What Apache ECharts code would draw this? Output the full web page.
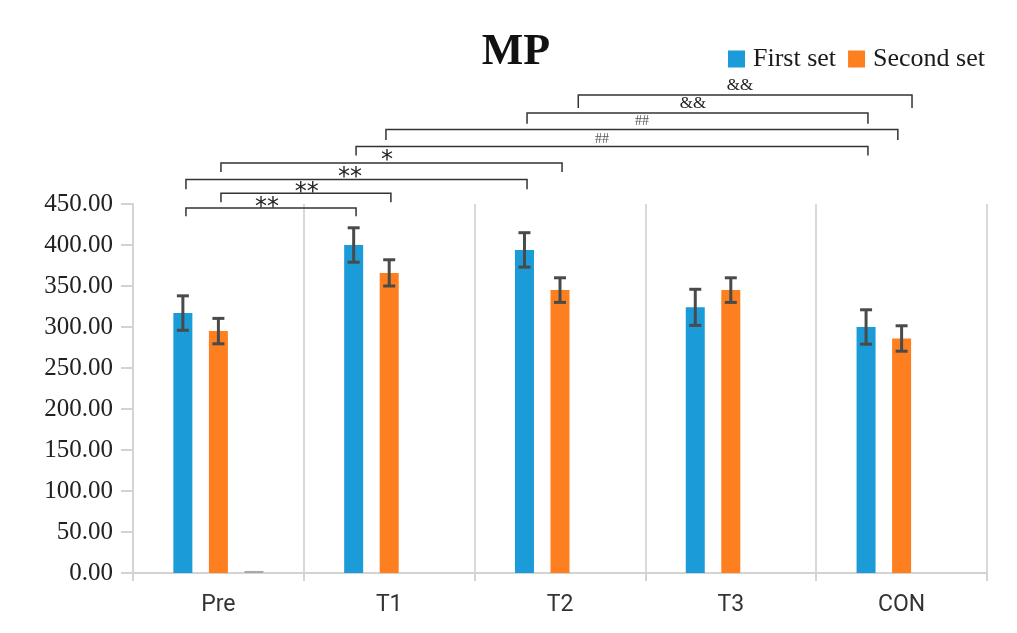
<!DOCTYPE html>
<html>
<head>
<meta charset="utf-8">
<script src="https://cdn.jsdelivr.net/npm/echarts@6/dist/echarts.min.js"></script>
<style>html,body{margin:0;padding:0;background:#fff;}#chart{width:1017px;height:633px;}</style>
</head>
<body>
<div id="chart"></div>
<script>
// ---- data ----
const categories = ['Pre', 'T1', 'T2', 'T3', 'CON'];
const firstSet = [317, 400, 394, 324, 300];
const firstSetErr = [21, 21, 21, 22, 21];
const secondSet = [295, 366, 345, 345, 286];
const secondSetErr = [15.5, 16, 15, 15, 15.5];
const thirdSet = [2.5, null, null, null, null];
const yMin = 0, yMax = 450, yStep = 50;

// significance brackets (x in category units from first category centre, y in data units)
const bracketFrom  = [2.107, 1.807, 0.981, 0.806, 0.015, -0.190, 0.015, -0.190];
const bracketTo    = [4.061, 3.803, 3.978, 3.803, 2.012, 1.807, 1.010, 0.806];
const bracketLevel = [583, 561, 541, 520, 500, 480, 463, 445];
const bracketDrop  = [16, 13, 13, 11, 11, 12, 11, 10];
const markText  = ['&&', '&&', '##', '##', '*', '**', '**', '**'];
const markPos   = [3.054, 2.779, 2.480, 2.246, 0.987, 0.770, 0.518, 0.284];
const markLevel = [594, 573, 551, 529, 503, 482, 464, 445];

// ---- styling ----
const BAR_W = 19, GAP_RATIO = 0.87;
const BLUE = '#1b9bd7', ORANGE = '#fe7f1f', GREY = '#a9a9a9';
const AXIS_GREY = '#d3d3d3';

function errSeries(means, errs, slot) {
  return {
    type: 'custom',
    clip: false,
    z: 5,
    encode: { x: 0, y: 1 },
    data: means.map((m, i) => [i, m, errs[i]]),
    renderItem: function (params, api) {
      const i = api.value(0), m = api.value(1), e = api.value(2);
      const off = (slot - 1) * (BAR_W + BAR_W * GAP_RATIO);
      const x = api.coord([i, m])[0] + off;
      const yt = api.coord([i, m + e])[1];
      const yb = api.coord([i, m - e])[1];
      const st = { stroke: '#4a4a4a', lineWidth: 3 };
      return { type: 'group', children: [
        { type: 'line', shape: { x1: x, y1: yt, x2: x, y2: yb }, style: st },
        { type: 'line', shape: { x1: x - 6, y1: yt, x2: x + 6, y2: yt }, style: st },
        { type: 'line', shape: { x1: x - 6, y1: yb, x2: x + 6, y2: yb }, style: st }
      ]};
    },
    silent: true
  };
}

const markFont = {
  '&&': '17px "Liberation Serif"',
  '##': '14px "Liberation Serif"',
  '*': '24px "DejaVu Sans"',
  '**': '24px "DejaVu Sans"'
};

const chart = echarts.init(document.getElementById('chart'), null, { renderer: 'canvas' });
chart.setOption({
  animation: false,
  backgroundColor: '#fff',
  grid: { left: 133, right: 30, top: 204, bottom: 60 },
  legend: {
    data: ['First set', 'Second set'],
    left: 728, top: 46, padding: 0,
    itemWidth: 17, itemHeight: 17, itemGap: 12,
    icon: 'rect',
    textStyle: { fontFamily: 'Liberation Serif', fontSize: 26, color: '#1a1a1a', padding: [0, 0, 0, 3] }
  },
  graphic: [{
    type: 'text', x: 516, y: 53,
    style: { text: 'MP', font: 'bold 44px "Liberation Serif"', fill: '#111', align: 'center', verticalAlign: 'middle' }
  }],
  xAxis: {
    type: 'category',
    data: categories,
    axisLine: { lineStyle: { color: AXIS_GREY, width: 2 } },
    axisTick: { show: true, length: 8, lineStyle: { color: AXIS_GREY, width: 2 } },
    splitLine: { show: true, lineStyle: { color: '#d9d9d9', width: 2 } },
    axisLabel: { fontFamily: 'Roboto', fontSize: 23, color: '#333', margin: 21 }
  },
  yAxis: {
    type: 'value',
    min: yMin, max: yMax, interval: yStep,
    axisLine: { show: true, lineStyle: { color: AXIS_GREY, width: 2 } },
    axisTick: { show: true, length: 12, lineStyle: { color: AXIS_GREY, width: 2 } },
    splitLine: { show: false },
    axisLabel: { fontFamily: 'Liberation Serif', fontSize: 25, color: '#222', margin: 20,
      formatter: v => v.toFixed(2) }
  },
  series: [
    { name: 'First set', type: 'bar', data: firstSet, barWidth: BAR_W, barGap: (GAP_RATIO * 100) + '%',
      itemStyle: { color: BLUE } },
    { name: 'Second set', type: 'bar', data: secondSet, barWidth: BAR_W, barGap: (GAP_RATIO * 100) + '%',
      itemStyle: { color: ORANGE } },
    { name: 'other', type: 'bar', data: thirdSet, barWidth: BAR_W, barGap: (GAP_RATIO * 100) + '%',
      itemStyle: { color: GREY } },
    errSeries(firstSet, firstSetErr, 0),
    errSeries(secondSet, secondSetErr, 1),
    {
      type: 'custom', clip: false, silent: true, z: 6,
      encode: { x: 0, y: 1 },
      data: bracketLevel.map((lv, i) => [0, lv, bracketFrom[i], bracketTo[i], bracketDrop[i]]),
      renderItem: function (params, api) {
        const lv = api.value(1), f = api.value(2), t = api.value(3), d = api.value(4);
        const c0 = api.coord([0, 0])[0];
        const band = api.size([1, 0])[0];
        const y = api.coord([0, lv])[1];
        const yb = api.coord([0, lv - d])[1];
        const x1 = c0 + f * band, x2 = c0 + t * band;
        return { type: 'polyline', shape: { points: [[x1, yb], [x1, y], [x2, y], [x2, yb]] },
          style: { stroke: '#333', lineWidth: 1.5, fill: null } };
      }
    },
    {
      type: 'custom', clip: false, silent: true, z: 6,
      encode: { x: 0, y: 1 },
      data: markLevel.map((lv, i) => [0, lv, markPos[i], i]),
      renderItem: function (params, api) {
        const lv = api.value(1), p = api.value(2), idx = api.value(3);
        const c0 = api.coord([0, 0])[0];
        const band = api.size([1, 0])[0];
        const y = api.coord([0, lv])[1];
        const txt = markText[idx];
        return { type: 'text', x: c0 + p * band, y: y,
          style: { text: txt, font: markFont[txt], fill: txt === '##' ? '#555' : '#222',
            align: 'center', verticalAlign: 'middle' } };
      }
    }
  ]
});
</script>
</body>
</html>
